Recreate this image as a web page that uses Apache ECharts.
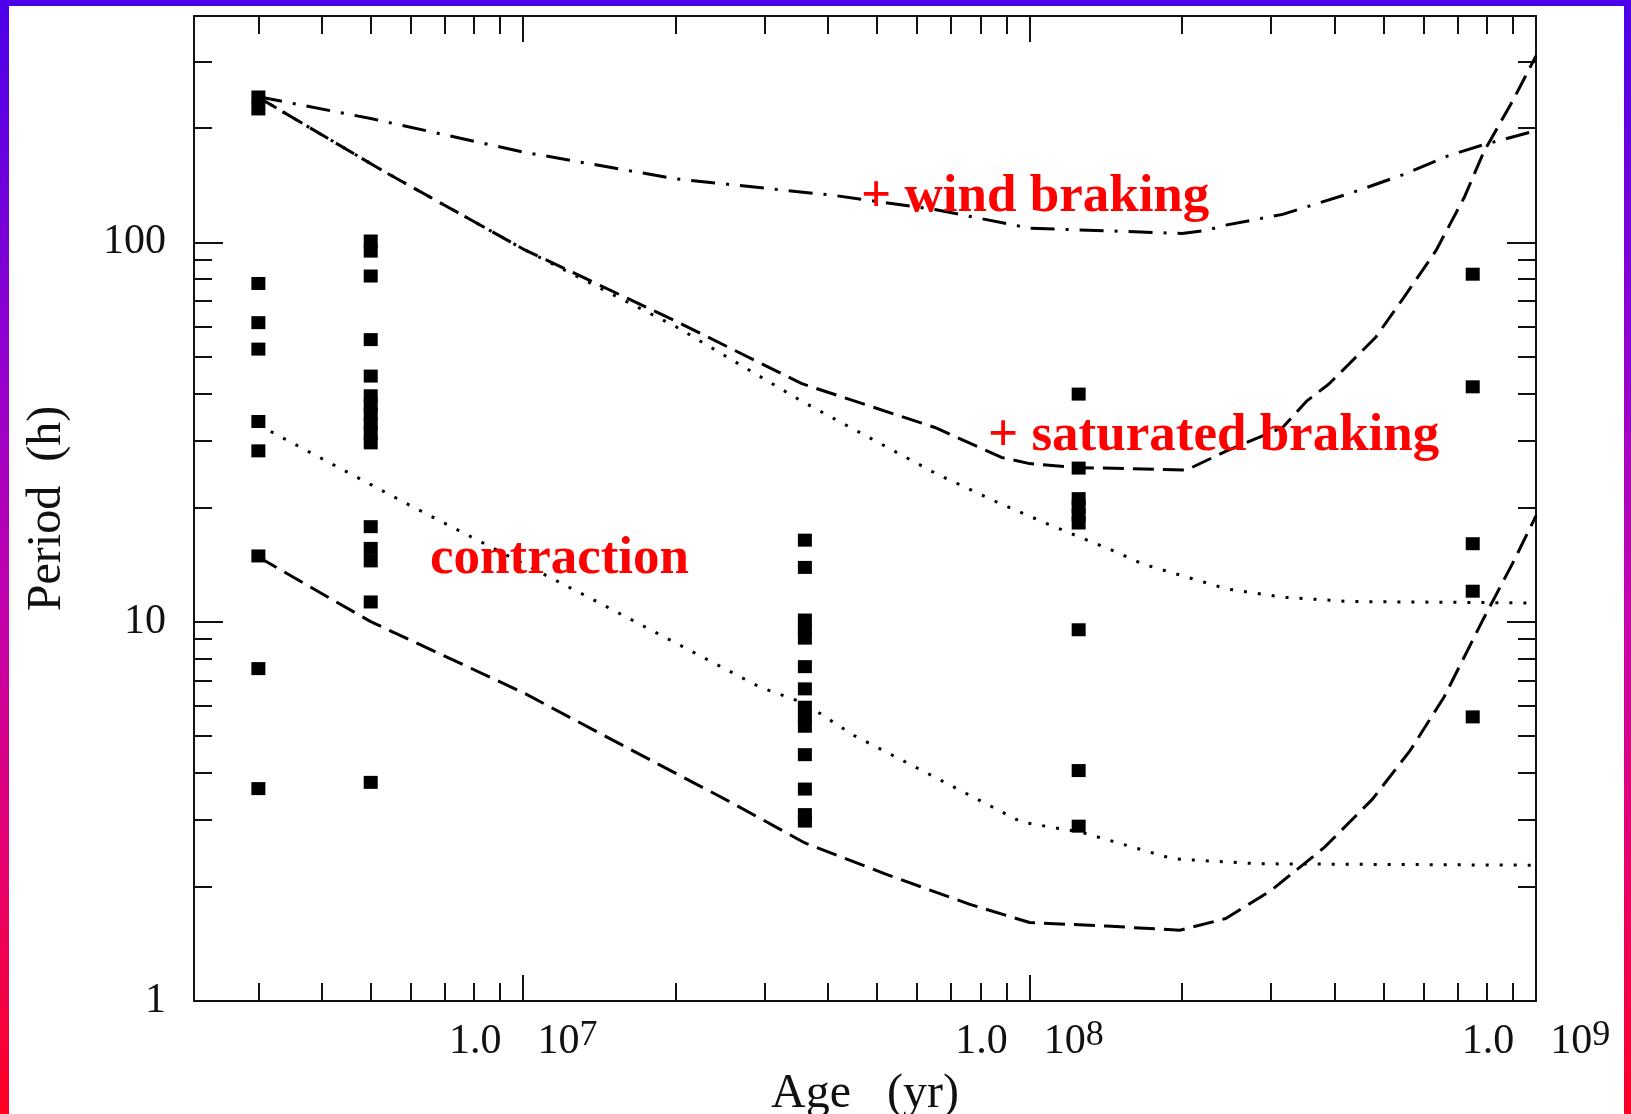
<!DOCTYPE html>
<html>
<head>
<meta charset="utf-8">
<script src="https://cdn.jsdelivr.net/npm/echarts@6/dist/echarts.min.js"></script>
<style>
  html, body { margin: 0; padding: 0; background: #fff; }
  #chart { width: 1631px; height: 1114px; }
</style>
</head>
<body>
<div id="chart"></div>
<script>
// Cluster ages (yr) and the rotation periods (h) measured in each cluster
const clusterAges = [3e6, 5e6, 3.6e7, 1.25e8, 7.5e8];
const periodsAt3Myr = [241.6, 224.7, 77.9, 61.4, 52.3, 33.7, 28.2, 14.9, 7.52, 3.63];
const periodsAt5Myr = [100.8, 94.8, 81.5, 55.4, 44.4, 39.4, 37.2, 35.2, 33.2, 31.4, 29.6, 17.8, 15.6, 14.46, 11.27, 3.77];
const periodsAt36Myr = [16.4, 13.9, 10.1, 9.58, 9.05, 7.61, 6.65, 5.95, 5.62, 5.30, 4.46, 3.62, 3.10, 2.98];
const periodsAt125Myr = [39.8, 25.4, 21.1, 20.1, 19.1, 18.2, 9.52, 4.05, 2.89];
const periodsAt750Myr = [82.4, 41.6, 16.05, 12.03, 5.61];

// Model tracks, [age (yr), period (h)], slow rotator (upper) and fast rotator (lower)
const contractionSlow = [
  [3e6, 241], [5.3e6, 154], [1e7, 96], [2e7, 60], [3.55e7, 38.1],
  [6.56e7, 24.5], [8.8e7, 20.4], [1.085e8, 18.1], [1.46e8, 15.4], [1.67e8, 14.2],
  [2.45e8, 12.2], [3.16e8, 11.6], [4.3e8, 11.3], [1e9, 11.2]
];
const saturatedSlow = [
  [3e6, 241], [5.3e6, 154], [1e7, 96], [2e7, 62], [3.55e7, 42.4],
  [6.5e7, 32.5], [8.8e7, 27.1], [1.0e8, 26.1], [1.22e8, 25.5], [2.04e8, 25.1],
  [2.45e8, 28.2], [3.16e8, 32.5], [3.53e8, 38.2], [3.9e8, 42.3], [4.82e8, 56.1],
  [5.48e8, 71.5], [6.34e8, 94.9], [7.21e8, 131], [7.9e8, 174], [8.98e8, 235], [1e9, 310]
];
const windSlow = [
  [3e6, 242], [5e6, 212], [1e7, 173], [2e7, 147], [4.1e7, 133], [6.5e7, 122],
  [1e8, 109], [2e8, 105.5], [2.23e8, 107.5], [2.44e8, 111], [3.16e8, 118.5],
  [4.32e8, 135], [5.48e8, 151], [6.7e8, 169], [7.9e8, 181], [1e9, 197]
];
const contractionFast = [
  [3e6, 33], [6e6, 20.2], [1.38e7, 11.4], [2.94e7, 6.71], [3.58e7, 6.11], [4.5e7, 5.01],
  [5.15e7, 4.57], [9.65e7, 2.96], [1.26e8, 2.79], [1.92e8, 2.37], [2.83e8, 2.30], [1e9, 2.28]
];
const saturatedFast = [
  [3e6, 14.8], [5e6, 10.0], [1e7, 6.5], [1.6e7, 4.66], [2.55e7, 3.36], [3.6e7, 2.61],
  [5.2e7, 2.16], [7.6e7, 1.8], [1e8, 1.61], [1.42e8, 1.576], [1.98e8, 1.536],
  [2.44e8, 1.65], [3.0e8, 1.957], [3.82e8, 2.54], [4.75e8, 3.4], [5.64e8, 4.57],
  [6.58e8, 6.32], [7.9e8, 10.26], [8.98e8, 14.2], [1e9, 19.0]
];

// Tick values and labels
const ageMajorTicks = [1e7, 1e8, 1e9];
const ageMinorTicks = [3e6, 4e6, 5e6, 6e6, 7e6, 8e6, 9e6,
  2e7, 3e7, 4e7, 5e7, 6e7, 7e7, 8e7, 9e7,
  2e8, 3e8, 4e8, 5e8, 6e8, 7e8, 8e8, 9e8];
const ageTickLabels = [['1.0', '10', '7'], ['1.0', '10', '8'], ['1.0', '10', '9']];
const periodMajorTicks = [1, 10, 100];
const periodMinorTicks = [2, 3, 4, 5, 6, 7, 8, 9, 20, 30, 40, 50, 60, 70, 80, 90, 200, 300];
const periodTickLabels = ['1', '10', '100'];

const axisNames = { age: 'Age   (yr)', period: 'Period  (h)' };
const trackLabels = ['+ wind braking', '+ saturated braking', 'contraction'];

// ---------------------------------------------------------------
const SERIF = '"Liberation Serif", "Times New Roman", serif';
const INK = '#111';
const AGE_MIN = Math.pow(10, 6.35), AGE_MAX = 1e9;
const P_MIN = 1, P_MAX = 395;

const clusterPeriods = [periodsAt3Myr, periodsAt5Myr, periodsAt36Myr, periodsAt125Myr, periodsAt750Myr];
const scatterData = [];
clusterAges.forEach((age, i) => clusterPeriods[i].forEach(p => scatterData.push([age, p])));

function sameTick(a, b) { return Math.abs(Math.log10(a) - Math.log10(b)) < 1e-6; }

function ageAxis(position, ticks, len, withLine, withLabels) {
  const ax = {
    type: 'log', logBase: 10, min: AGE_MIN, max: AGE_MAX, position: position,
    axisLine: { show: withLine, lineStyle: { color: INK, width: 2 } },
    axisTick: { show: true, inside: true, length: len, customValues: ticks,
                lineStyle: { color: INK, width: 2 } },
    axisLabel: { show: false },
    splitLine: { show: false }, minorTick: { show: false }, minorSplitLine: { show: false }
  };
  if (withLabels) {
    ax.axisLabel = {
      show: true, customValues: ageMajorTicks, margin: 17,
      formatter: v => {
        const i = ageMajorTicks.findIndex(t => sameTick(t, v));
        const l = ageTickLabels[i];
        return '{m|' + l[0] + '}{b|' + l[1] + '}{e|' + l[2] + '}';
      },
      rich: {
        m: { fontFamily: SERIF, fontSize: 42, color: INK, lineHeight: 48 },
        b: { fontFamily: SERIF, fontSize: 42, color: INK, lineHeight: 48, padding: [0, 0, 0, 36] },
        e: { fontFamily: SERIF, fontSize: 36, color: INK, lineHeight: 30, verticalAlign: 'top' }
      }
    };
    ax.name = axisNames.age;
    ax.nameLocation = 'middle';
    ax.nameGap = 69;
    ax.nameTextStyle = { fontFamily: SERIF, fontSize: 48, color: INK };
  }
  return ax;
}

function periodAxis(position, ticks, len, withLine, withLabels) {
  const ax = {
    type: 'log', logBase: 10, min: P_MIN, max: P_MAX, position: position,
    axisLine: { show: withLine, lineStyle: { color: INK, width: 2 } },
    axisTick: { show: true, inside: true, length: len, customValues: ticks,
                lineStyle: { color: INK, width: 2 } },
    axisLabel: { show: false },
    splitLine: { show: false }, minorTick: { show: false }, minorSplitLine: { show: false }
  };
  if (withLabels) {
    ax.axisLabel = {
      show: true, customValues: periodMajorTicks, margin: 28,
      fontFamily: SERIF, fontSize: 42, color: INK,
      formatter: v => periodTickLabels[periodMajorTicks.findIndex(t => sameTick(t, v))]
    };
    ax.name = axisNames.period;
    ax.nameLocation = 'middle';
    ax.nameRotate = 90;
    ax.nameGap = 123;
    ax.nameTextStyle = { fontFamily: SERIF, fontSize: 48, color: INK };
  }
  return ax;
}

function track(data, dash) {
  return {
    type: 'line', data: data, xAxisIndex: 0, yAxisIndex: 0,
    symbol: 'none', smooth: false, silent: true, z: 3,
    lineStyle: { color: '#000', width: 3, type: dash, cap: 'butt' }
  };
}

const frameGradient = {
  type: 'linear', x: 0, y: 0, x2: 0, y2: 1,
  colorStops: [
    { offset: 0, color: '#4a00ea' }, { offset: 0.3, color: '#8e00d2' },
    { offset: 0.55, color: '#c400ac' }, { offset: 0.78, color: '#e8006c' },
    { offset: 1, color: '#ff0022' }
  ]
};

const labelFont = { fontFamily: SERIF, fontWeight: 'bold', fontSize: 53, fill: '#ff0000', verticalAlign: 'middle' };

const chart = echarts.init(document.getElementById('chart'), null, { renderer: 'canvas' });
chart.setOption({
  backgroundColor: '#ffffff',
  animation: false,
  grid: { left: 194, top: 16, width: 1342, height: 985, containLabel: false, outerBoundsMode: 'none' },
  xAxis: [
    ageAxis('bottom', ageMajorTicks, 26, true, true),
    ageAxis('bottom', ageMinorTicks, 18, false, false),
    ageAxis('top', ageMajorTicks, 26, true, false),
    ageAxis('top', ageMinorTicks, 18, false, false)
  ],
  yAxis: [
    periodAxis('left', periodMajorTicks, 29, true, true),
    periodAxis('left', periodMinorTicks, 18, false, false),
    periodAxis('right', periodMajorTicks, 29, true, false),
    periodAxis('right', periodMinorTicks, 18, false, false)
  ],
  series: [
    track(contractionSlow, [3, 11]),
    track(saturatedSlow, [21, 9]),
    track(windSlow, [24, 11, 3, 11]),
    track(contractionFast, [3, 11]),
    track(saturatedFast, [21, 9]),
    {
      type: 'scatter', data: scatterData, xAxisIndex: 0, yAxisIndex: 0,
      symbol: 'rect', symbolSize: [14, 13], z: 4, silent: true,
      itemStyle: { color: '#000', opacity: 1 }
    }
  ],
  graphic: [
    { type: 'rect', silent: true, z: 100, shape: { x: 0, y: 0, width: 9, height: 1114 }, style: { fill: frameGradient } },
    { type: 'rect', silent: true, z: 100, shape: { x: 1624, y: 0, width: 7, height: 1114 }, style: { fill: frameGradient } },
    { type: 'rect', silent: true, z: 100, shape: { x: 0, y: 0, width: 1631, height: 6 }, style: { fill: '#4a00ea' } },
    { type: 'text', silent: true, z: 50, x: 861, y: 197, style: Object.assign({ text: trackLabels[0] }, labelFont) },
    { type: 'text', silent: true, z: 50, x: 988, y: 436, style: Object.assign({ text: trackLabels[1] }, labelFont) },
    { type: 'text', silent: true, z: 50, x: 430, y: 559, style: Object.assign({ text: trackLabels[2] }, labelFont) }
  ]
});
</script>
</body>
</html>
